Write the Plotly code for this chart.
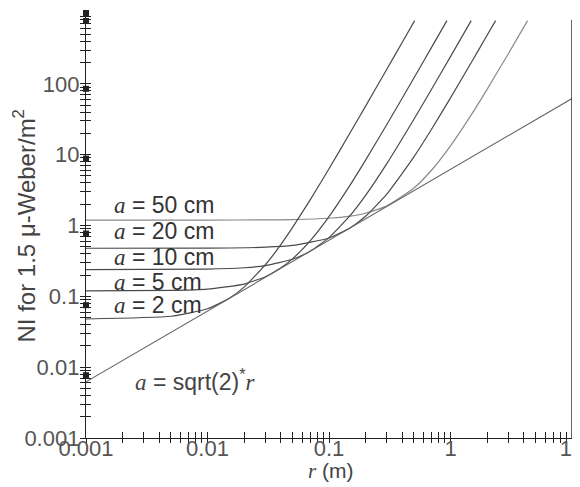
import plotly.graph_objects as go

# ---- data ----
r_2cm = [0.001, 0.005, 0.01, 0.015, 0.02, 0.03, 0.04, 0.05, 0.07, 0.1, 0.15, 0.2, 0.3, 0.4, 0.507]
ni_2cm = [0.0479, 0.0523, 0.0667, 0.0932, 0.135, 0.280, 0.534, 0.932, 2.303, 6.33, 20.68, 48.5, 162, 383, 780]

r_5cm = [0.001, 0.005, 0.01, 0.02, 0.03, 0.04, 0.05, 0.07, 0.1, 0.15, 0.2, 0.3, 0.5, 0.7, 0.934]
ni_5cm = [0.1194, 0.1211, 0.1266, 0.1491, 0.1893, 0.2507, 0.3376, 0.6078, 1.334, 3.774, 8.366, 26.86, 121.1, 330.0, 780]

r_10cm = [0.001, 0.01, 0.02, 0.03, 0.05, 0.07, 0.1, 0.15, 0.2, 0.3, 0.5, 0.7, 1.0, 1.48]
ni_10cm = [0.2387, 0.2423, 0.2532, 0.2716, 0.3336, 0.4342, 0.6752, 1.399, 2.669, 7.548, 31.65, 84.39, 242.3, 780]

r_20cm = [0.001, 0.01, 0.03, 0.05, 0.1, 0.15, 0.2, 0.3, 0.5, 0.7, 1.0, 1.5, 2.0, 2.35]
ni_20cm = [0.4774, 0.4792, 0.4936, 0.5229, 0.6672, 0.9324, 1.350, 2.797, 9.32, 23.03, 63.29, 206.8, 484.6, 780]

r_50cm = [0.001, 0.01, 0.03, 0.05, 0.1, 0.15, 0.2, 0.3, 0.5, 0.7, 1.0, 1.5, 2.0, 3.0, 4.31]
ni_50cm = [1.1935, 1.1942, 1.200, 1.2115, 1.2658, 1.358, 1.4911, 1.893, 3.376, 6.078, 13.34, 37.74, 83.66, 268.6, 780]

r_min = [0.001, 10]
ni_min = [0.0062, 62]

# black square marks on the y axis
mark_x = [0.001] * 7
mark_y = [1000, 770, 85, 8.8, 0.77, 0.075, 0.0077]

curve_labels = ["a = 50 cm", "a = 20 cm", "a = 10 cm", "a = 5 cm", "a = 2 cm"]

x_tickvals = [0.001, 0.01, 0.1, 1, 10]
x_ticktext = ["0.001", "0.01", "0.1", "1", "10"]
y_tickvals = [0.001, 0.01, 0.1, 1, 10, 100]
y_ticktext = ["0.001", "0.01", "0.1", "1", "10", "100"]
minor_mult = [2, 3, 4, 5, 6, 7, 8, 9]
x_minor = [m * d for d in [0.001, 0.01, 0.1, 1] for m in minor_mult]
y_minor = [m * d for d in [0.001, 0.01, 0.1, 1, 10, 100] for m in minor_mult]

FONT = "Liberation Sans, Arial, sans-serif"
LINE = "#4a4a4a"

fig = go.Figure()
series = [(r_50cm, ni_50cm, "#8a8a8a"), (r_20cm, ni_20cm, LINE), (r_10cm, ni_10cm, LINE),
          (r_5cm, ni_5cm, LINE), (r_2cm, ni_2cm, LINE)]
for (rx, ny, col), name in zip(series, curve_labels):
    fig.add_trace(go.Scatter(x=rx, y=ny, mode="lines", name=name,
                             line=dict(color=col, width=1.2, shape="spline", smoothing=0.5),
                             showlegend=False))
fig.add_trace(go.Scatter(x=r_min, y=ni_min, mode="lines", line=dict(color="#666", width=1.1),
                         showlegend=False))
fig.add_trace(go.Scatter(x=mark_x, y=mark_y, mode="markers", cliponaxis=False,
                         marker=dict(symbol="square", size=6, color="#222"), showlegend=False))
# dummy trace for the overlay axes (inner ticks)
fig.add_trace(go.Scatter(x=[0.001], y=[0.001], xaxis="x2", yaxis="y2", mode="markers",
                         marker=dict(size=1, opacity=0), showlegend=False, hoverinfo="skip"))

axis_common = dict(type="log", showgrid=False, zeroline=False, showline=True, automargin=False,
                   linecolor="#222", linewidth=1.3, tickcolor="#222", tickwidth=1.3)

# page has an 8px body margin, so the figure is sized 572x479 to fill the 580x487 window
fig.update_layout(
    width=572, height=479,
    margin=dict(l=78, r=8, t=5, b=49),
    paper_bgcolor="white", plot_bgcolor="white",
    font=dict(family=FONT, size=22, color="#444"),
    xaxis=dict(range=[-3, 1], ticks="outside", ticklen=4, tickvals=x_tickvals, ticktext=x_ticktext,
               ticklabelstandoff=-14, ticklabeloverflow="allow",
               minor=dict(tickvals=x_minor, ticks="outside", ticklen=4, tickcolor="#222", tickwidth=1.1),
               tickfont=dict(size=22, color="#555"), **axis_common),
    yaxis=dict(range=[-3, 3], ticks="outside", ticklen=5, tickvals=y_tickvals, ticktext=y_ticktext,
               ticklabelstandoff=-4, ticklabeloverflow="allow",
               minor=dict(tickvals=y_minor, ticks="outside", ticklen=5, tickcolor="#222", tickwidth=1.1),
               tickfont=dict(size=22, color="#555"), **axis_common),
    xaxis2=dict(range=[-3, 1], overlaying="x", anchor="y", side="bottom", ticks="inside", ticklen=6,
                tickvals=x_tickvals, showticklabels=False,
                minor=dict(tickvals=x_minor, ticks="inside", ticklen=6, tickcolor="#222", tickwidth=1.1),
                **axis_common),
    yaxis2=dict(range=[-3, 3], overlaying="y", anchor="x", side="left", ticks="inside", ticklen=5,
                tickvals=y_tickvals, showticklabels=False,
                minor=dict(tickvals=y_minor, ticks="inside", ticklen=5, tickcolor="#222", tickwidth=1.1),
                **axis_common),
    shapes=[dict(type="line", xref="paper", yref="paper", x0=1, x1=1, y0=0, y1=0.984,
                 line=dict(color="#333", width=1.5))],
)

A = "<span style='font-family:Liberation Serif'><i>a</i></span>"
label_y = [0.548, 0.487, 0.426, 0.367, 0.313]
for txt, yy in zip(curve_labels, label_y):
    fig.add_annotation(xref="paper", yref="paper", x=0.0535, y=yy, xanchor="left", yanchor="middle",
                       text=A + txt[1:], showarrow=False, font=dict(size=23, color="#333", family=FONT))
fig.add_annotation(xref="paper", yref="paper", x=0.0967, y=0.136, xanchor="left", yanchor="middle",
                   text=A + " = sqrt(2)<sup>*</sup><span style='font-family:Liberation Serif'><i>r</i></span>",
                   showarrow=False, font=dict(size=23, color="#444", family=FONT))
fig.add_annotation(xref="paper", yref="paper", x=-0.1276, y=0.50, xanchor="center", yanchor="middle",
                   textangle=-90, text="NI for 1.5 \u03bc-Weber/m<sup>2</sup>", showarrow=False,
                   font=dict(size=24, color="#444", family=FONT))
fig.add_annotation(xref="paper", yref="paper", x=0.504, y=-0.078, xanchor="center", yanchor="middle",
                   text="<span style='font-family:Liberation Serif'><i>r</i></span> (m)", showarrow=False,
                   font=dict(size=21, color="#444", family=FONT))

fig.write_html("out.html")
